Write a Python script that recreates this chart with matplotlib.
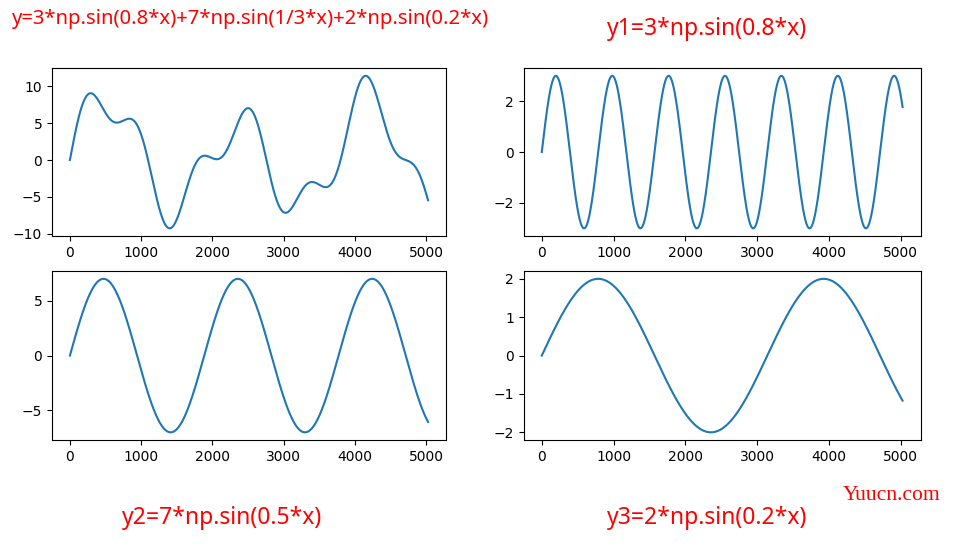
import numpy as np
import matplotlib
matplotlib.use("Agg")
import matplotlib.pyplot as plt

# sample grid used by the original plot (index 0..~5026, step 0.01)
x_start, x_stop, x_step = 0, 50.27, 0.01

# component amplitudes and frequencies, as drawn
amps = [3, 7, 2]
freqs = [0.8, 1 / 3, 0.2]

titles = ["y=3*np.sin(0.8*x)+7*np.sin(1/3*x)+2*np.sin(0.2*x)",
          "y1=3*np.sin(0.8*x)",
          "y2=7*np.sin(0.5*x)",
          "y3=2*np.sin(0.2*x)"]

x = np.arange(x_start, x_stop, x_step)
parts = [a * np.sin(f * x) for a, f in zip(amps, freqs)]
y = parts[0] + parts[1] + parts[2]
series = [y, parts[0], parts[1], parts[2]]

fig = plt.figure(figsize=(9.54, 5.5), dpi=100)

boxes = [[0.0545, 0.571, 0.413, 0.305],
         [0.549, 0.571, 0.416, 0.305],
         [0.0545, 0.2, 0.413, 0.307],
         [0.549, 0.2, 0.416, 0.307]]

for box, s in zip(boxes, series):
    ax = fig.add_axes(box)
    ax.plot(s)

title_font = ["Noto Sans", "DejaVu Sans"]
fig.text(12 / 954, 1 - 19 / 550, titles[0], color="red", fontsize=14.6,
         family=title_font, va="center", ha="left")
fig.text(607 / 954, 1 - 29 / 550, titles[1], color="red", fontsize=16.5,
         family=title_font, va="center", ha="left")
fig.text(122 / 954, 1 - 518 / 550, titles[2], color="red", fontsize=16.5,
         family=title_font, va="center", ha="left")
fig.text(607 / 954, 1 - 518 / 550, titles[3], color="red", fontsize=16.5,
         family=title_font, va="center", ha="left")

# site watermark
fig.text(843 / 954, 1 - 496 / 550, "Yuucn.com", color="red", fontsize=15.6,
         family="Liberation Serif", va="center", ha="left")

fig.savefig("out.png", dpi=100)
